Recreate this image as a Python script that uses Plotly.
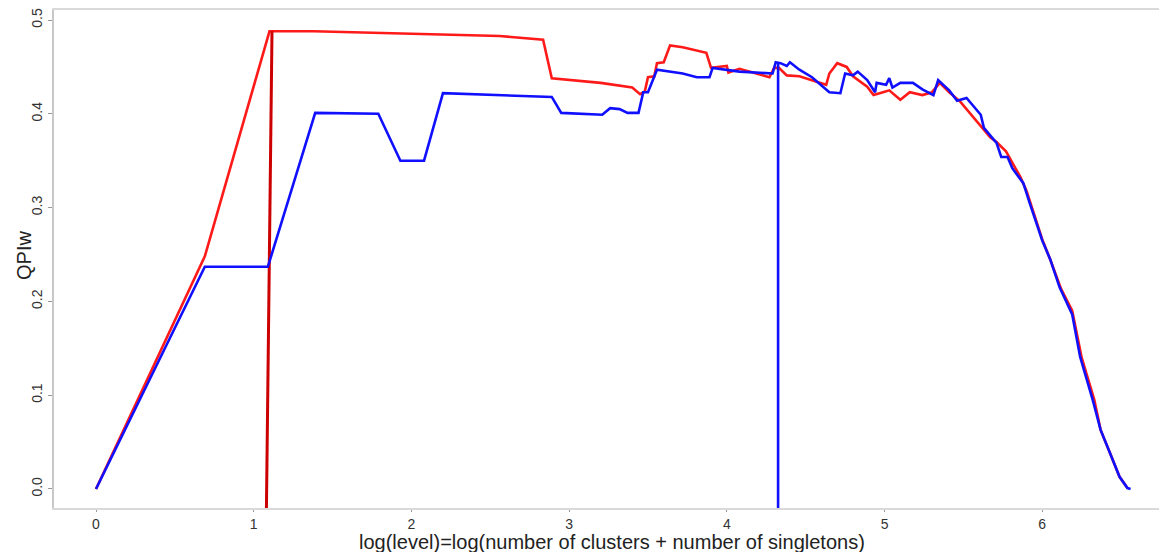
import plotly.graph_objects as go

# Red series (log level, QPIw)
red_x = [0, 0.69, 1.10, 1.38, 2.56, 2.835, 2.89, 3.20, 3.40, 3.45, 3.48, 3.50, 3.54, 3.557, 3.60, 3.64,
         3.72, 3.87, 3.90, 4.00, 4.01, 4.08, 4.27, 4.30, 4.33, 4.38, 4.46, 4.57, 4.63, 4.65, 4.70,
         4.76, 4.80, 4.89, 4.93, 4.99, 5.03, 5.10, 5.16, 5.24, 5.30, 5.35, 5.41, 5.48, 5.56, 5.67,
         5.71, 5.77, 5.86, 5.90, 5.96, 6.00, 6.05, 6.12, 6.19, 6.25, 6.33, 6.37, 6.43, 6.49, 6.54]
red_y = [0, 0.248, 0.488, 0.488, 0.483, 0.479, 0.438, 0.433, 0.428, 0.421, 0.424, 0.439, 0.440, 0.454,
         0.455, 0.473, 0.471, 0.465, 0.449, 0.451, 0.444, 0.448, 0.439, 0.449, 0.449, 0.441, 0.440,
         0.434, 0.431, 0.443, 0.454, 0.450, 0.440, 0.429, 0.420, 0.423, 0.425, 0.415, 0.423, 0.420,
         0.423, 0.433, 0.423, 0.413, 0.397, 0.375, 0.370, 0.360, 0.333, 0.318, 0.287, 0.266, 0.245,
         0.213, 0.190, 0.140, 0.095, 0.063, 0.038, 0.013, 0.001]

# Blue series
blue_x = [0, 0.69, 1.09, 1.39, 1.79, 1.93, 2.08, 2.20, 2.89, 2.95, 3.21, 3.26, 3.32, 3.37, 3.44, 3.47,
          3.50, 3.557, 3.72, 3.81, 3.89, 3.91, 4.08, 4.29, 4.31, 4.34, 4.38, 4.40, 4.46, 4.54, 4.65,
          4.72, 4.75, 4.80, 4.83, 4.89, 4.94, 4.95, 5.01, 5.03, 5.05, 5.10, 5.18, 5.24, 5.31, 5.34,
          5.41, 5.46, 5.52, 5.61, 5.63, 5.71, 5.74, 5.78, 5.81, 5.88, 5.92, 5.97, 6.00, 6.05, 6.11,
          6.19, 6.24, 6.32, 6.37, 6.43, 6.49, 6.54, 6.56]
blue_y = [0, 0.237, 0.237, 0.401, 0.400, 0.350, 0.350, 0.422, 0.418, 0.401, 0.399, 0.406, 0.405, 0.401,
          0.401, 0.423, 0.423, 0.447, 0.443, 0.439, 0.439, 0.449, 0.445, 0.443, 0.455, 0.454, 0.451,
          0.455, 0.447, 0.439, 0.423, 0.422, 0.443, 0.441, 0.445, 0.436, 0.423, 0.433, 0.431, 0.438,
          0.428, 0.433, 0.433, 0.426, 0.420, 0.436, 0.425, 0.414, 0.417, 0.399, 0.385, 0.369, 0.354,
          0.354, 0.342, 0.326, 0.305, 0.279, 0.265, 0.245, 0.215, 0.186, 0.141, 0.095, 0.063, 0.038,
          0.013, 0.001, 0.0]

# Vertical marker segments
red_vline_x = [1.116, 1.08]
red_vline_y = [0.488, -0.03]
blue_vline_x = [4.325, 4.325]
blue_vline_y = [0.455, -0.03]

y_ticks = [0.0, 0.1, 0.2, 0.3, 0.4, 0.5]
x_ticks = [0, 1, 2, 3, 4, 5, 6]

fig = go.Figure()
fig.add_trace(go.Scatter(x=red_x, y=red_y, mode="lines", line=dict(color="#ff1a1a", width=2.6),
                         showlegend=False, hoverinfo="skip"))
fig.add_trace(go.Scatter(x=red_vline_x, y=red_vline_y, mode="lines", line=dict(color="#cc0000", width=3),
                         showlegend=False, hoverinfo="skip"))
fig.add_trace(go.Scatter(x=blue_x, y=blue_y, mode="lines", line=dict(color="#1010ff", width=2.6),
                         showlegend=False, hoverinfo="skip"))
fig.add_trace(go.Scatter(x=blue_vline_x, y=blue_vline_y, mode="lines", line=dict(color="#1010ff", width=2.6),
                         showlegend=False, hoverinfo="skip"))

font_family = "Liberation Sans, Arial, sans-serif"
# The page body has an 8px default margin, so the figure is sized to fit the window after it.
fig.update_layout(
    width=1159, height=544,
    margin=dict(l=46, r=0, t=2, b=44),
    plot_bgcolor="white", paper_bgcolor="white",
    font=dict(family=font_family, color="#333333"),
    xaxis=dict(range=[-0.2663, 6.791], tickvals=x_ticks, ticktext=[str(v) for v in x_ticks],
               automargin=False,
               showgrid=False, zeroline=False, showline=True, linecolor="#d9d9d9", linewidth=2,
               mirror=True, ticks="outside", ticklen=2, tickcolor="#999999", tickwidth=1,
               tickfont=dict(size=14, color="#333333")),
    yaxis=dict(range=[-0.0203, 0.5107], tickvals=y_ticks, ticktext=[f"{v:.1f}" for v in y_ticks],
               automargin=False, ticklabeloverflow="allow",
               tickangle=-90, showgrid=False, zeroline=False, showline=True, linecolor="#c8c8c8",
               linewidth=2, ticks="outside", ticklen=4, tickcolor="#999999", tickwidth=1,
               tickfont=dict(size=14, color="#333333")),
    annotations=[
        dict(text="QPIw", x=-0.027, y=0.508, xref="paper", yref="paper", showarrow=False,
             textangle=-90, font=dict(size=20, color="#222222"), xanchor="center", yanchor="middle"),
        dict(text="log(level)=log(number of clusters + number of singletons)", x=0.501, y=-0.068,
             xref="paper", yref="paper", showarrow=False, font=dict(size=20, color="#222222"),
             xanchor="center", yanchor="middle"),
    ],
)

fig.write_html("out.html")
